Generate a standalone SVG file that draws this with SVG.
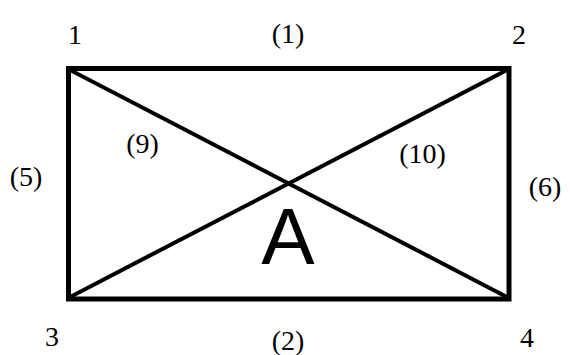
<svg xmlns="http://www.w3.org/2000/svg" width="570" height="355" viewBox="0 0 570 355">
<style>
.edge{stroke:#000;fill:none;stroke-linecap:square}
</style>
<rect width="570" height="355" fill="#fff"/>
<g id="connectors">
<rect class="edge" x="68.5" y="68.5" width="440.5" height="230.5" stroke-width="5"/>
<line class="edge" x1="70" y1="70" x2="507" y2="297" stroke-width="4"/>
<line class="edge" x1="507" y1="70" x2="70" y2="297" stroke-width="4"/>
</g>
<g font-family="Liberation Serif, serif" font-size="28" text-anchor="middle" fill="#000">
<g id="n1"><text x="75" y="44">1</text></g>
<g id="n2"><text x="519" y="44">2</text></g>
<g id="n3"><text x="52" y="346">3</text></g>
<g id="n4"><text x="527" y="347">4</text></g>
<g id="e1"><text x="288" y="43">(1)</text></g>
<g id="e2"><text x="288" y="350">(2)</text></g>
<g id="e5"><text x="26" y="186">(5)</text></g>
<g id="e6"><text x="545" y="196">(6)</text></g>
<g id="e9"><text x="142.5" y="153">(9)</text></g>
<g id="e10"><text x="422.5" y="163">(10)</text></g>
</g>
<g id="A"><text x="288" y="264" font-family="Liberation Sans, Arial, sans-serif" font-size="80" text-anchor="middle" fill="#000">A</text></g>
</svg>
